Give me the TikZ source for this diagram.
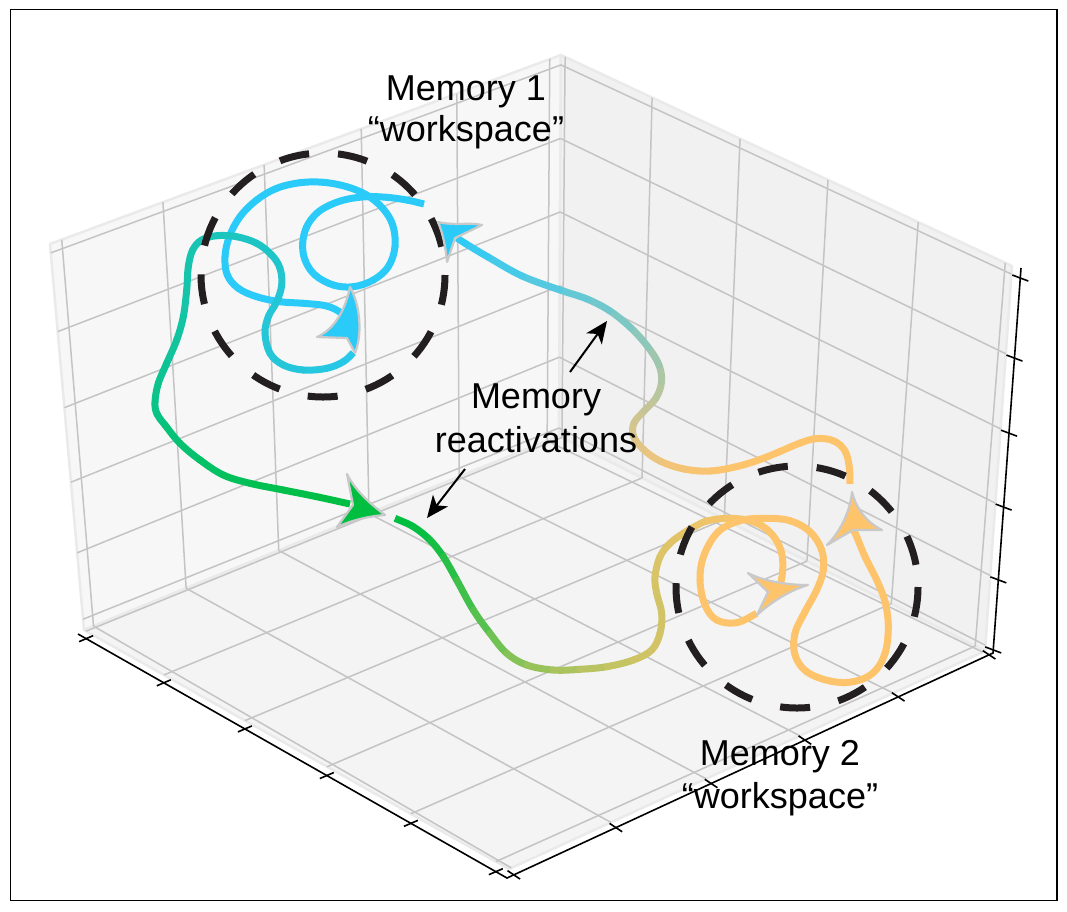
\documentclass[tikz,border=0pt]{standalone}
\usepackage{fontspec}
\setmainfont{Liberation Sans}
\usetikzlibrary{calc,arrows.meta}

% pane and grid colours
\definecolor{paneL}{HTML}{F7F7F7}
\definecolor{paneR}{HTML}{F1F1F1}
\definecolor{paneF}{HTML}{F4F4F4}
\definecolor{paneEdge}{HTML}{EAEAEA}
\definecolor{gridC}{HTML}{C4C4C4}
\definecolor{ringC}{HTML}{231F20}
\definecolor{headEdge}{HTML}{C9C9C9}
% trajectory colour stops
\definecolor{mA}{HTML}{2BCBF9}
\definecolor{mB}{HTML}{24C6D8}
\definecolor{mC}{HTML}{16C4AC}
\definecolor{mD}{HTML}{0AC386}
\definecolor{mE}{HTML}{00BE40}
\definecolor{mF}{HTML}{7CC255}
\definecolor{mG}{HTML}{D2C466}
\definecolor{mH}{HTML}{FEC46C}
\definecolor{mI}{HTML}{DCC58A}
\definecolor{mJ}{HTML}{A8C6A8}
\definecolor{mK}{HTML}{5CC9DA}

\tikzset{
  gridpen/.style={draw=gridC, line width=1.5pt},
  axispen/.style={draw=black, line width=1.6pt},
  trailpen/.style={line width=7pt},
  ringpen/.style={draw=ringC, line width=7pt, dash pattern=on 30pt off 29pt},
  headpen/.style={draw=headEdge, line width=2.2pt, line join=round},
  lab/.style={font=\fontsize{36}{43}\selectfont, inner sep=0pt, text=black},
  notepen/.style={draw=black, line width=2pt,
    -{Stealth[length=22pt, width=19pt, inset=6pt]}},
}

% Smooth coloured trail through a list of x/y/colour points
% (Catmull-Rom pieces, each piece in the mean colour of its ends).
\newcount\trailn
\newcommand\trail[1]{%
  \global\trailn=0\relax
  \foreach \px/\py/\pc in {#1}{%
    \global\advance\trailn by 1\relax
    \edef\qid{\the\trailn}%
    \coordinate (q\qid) at (\px,\py);
    \xglobal\colorlet{qc\qid}{\pc}%
  }%
  \edef\trailk{\the\trailn}%
  \pgfmathtruncatemacro\trailm{\trailk-1}%
  \foreach \ia in {1,...,\trailm}{%
    \pgfmathtruncatemacro\ta{max(\ia-1,1)}%
    \pgfmathtruncatemacro\tb{\ia+1}%
    \pgfmathtruncatemacro\tc{min(\ia+2,\trailk)}%
    \def\capstyle{round}%
    \ifnum\ia=1 \def\capstyle{butt}\fi
    \ifnum\ia=\trailm\relax \def\capstyle{butt}\fi
    \draw[trailpen, line cap=\capstyle, color=qc\ia!50!qc\tb]
      (q\ia) .. controls ($(q\ia)+0.1667*(q\tb)-0.1667*(q\ta)$)
               and ($(q\tb)+0.1667*(q\ia)-0.1667*(q\tc)$) .. (q\tb);
  }%
}

\begin{document}
\begin{tikzpicture}[x=1pt,y=-1pt]
\useasboundingbox (0,0) rectangle (1067,911);
\fill[white] (0,0) rectangle (1067,911);

% ---- box corners ----
\coordinate (TL) at (50,244);
\coordinate (TB) at (561,55);
\coordinate (TR) at (1012,266);
\coordinate (L)  at (84,630);
\coordinate (B)  at (559,436);
\coordinate (R)  at (985,651);
\coordinate (F)  at (509,869);

% ---- panes ----
\filldraw[fill=paneL, draw=paneEdge, line width=2.5pt, line join=round] (TL)--(TB)--(B)--(L)--cycle;
\filldraw[fill=paneR, draw=paneEdge, line width=2.5pt, line join=round] (TB)--(TR)--(R)--(B)--cycle;
\filldraw[fill=paneF, draw=paneEdge, line width=2.5pt, line join=round] (L)--(B)--(R)--(F)--cycle;

% ---- grid ----
\foreach \s/\t in {0.023/0.02,0.221/0.215,0.419/0.41,0.609/0.6,0.796/0.79,0.978/0.975}
  \draw[gridpen] ($(TL)!\s!(TB)$) -- ($(L)!\t!(B)$);
\foreach \s/\t in {0.02/0.005,0.215/0.214,0.41/0.414,0.6/0.611,0.79/0.807,0.975/0.995}
  \draw[gridpen] ($(L)!\s!(B)$) -- ($(F)!\t!(R)$);
\foreach \s/\t in {0.005/0.007,0.188/0.195,0.379/0.388,0.572/0.582,0.769/0.78,0.969/0.977}
  \draw[gridpen] ($(L)!\s!(F)$) -- ($(B)!\t!(R)$);
\foreach \s/\t in {0.007/0.009,0.195/0.202,0.388/0.397,0.582/0.592,0.78/0.792,0.977/0.985}
  \draw[gridpen] ($(B)!\s!(R)$) -- ($(TB)!\t!(TR)$);
\foreach \s/\t in {0.023/0.026,0.227/0.219,0.424/0.412,0.617/0.606,0.8/0.793,0.972/0.979}
  \draw[gridpen] ($(TL)!\s!(L)$) -- ($(TB)!\t!(B)$);
\foreach \s/\t in {0.026/0.021,0.219/0.228,0.412/0.423,0.606/0.616,0.793/0.804,0.979/0.985}
  \draw[gridpen] ($(TB)!\s!(B)$) -- ($(TR)!\t!(R)$);

% ---- axes and ticks ----
\coordinate (La) at (78,634);
\coordinate (Fa) at (507,878);
\coordinate (Ra) at (993,653);
\coordinate (Ta) at (1021,268);
\draw[axispen] (La) -- (Fa) -- (Ra) -- (Ta);
\foreach \s in {0.019,0.2,0.389,0.58,0.776,0.974}
  \draw[axispen] ($(La)!\s!(Fa)+(-7,3)$) -- ($(La)!\s!(Fa)+(7,-3)$);
\foreach \s in {0.014,0.224,0.42,0.613,0.805,0.992}
  \draw[axispen] ($(Fa)!\s!(Ra)+(-6.3,-4.2)$) -- ($(Fa)!\s!(Ra)+(6.3,4.2)$);
\foreach \s in {0.008,0.19,0.379,0.571,0.766,0.974}
  \draw[axispen] ($(Ra)!\s!(Ta)+(-8,-3)$) -- ($(Ra)!\s!(Ta)+(8,3)$);

% ---- trajectory ----
% spiral inside the first workspace
\trail{424/204/mA,406.7/200/mA,386.7/197.3/mA,366.7/196.7/mA,346.7/199.3/mA,
330/205/mA,316.7/213.3/mA,306.7/226.7/mA,302.7/243.3/mA,305/260/mA,315/275/mA,
333.3/285/mA,353.3/286.7/mA,373.3/280/mA,388.3/266.7/mA,395/246.7/mA,
392.7/225/mA,382.7/208.3/mA,366.7/195/mA,346.7/186.7/mA,323.3/182.3/mA,
300/182.7/mA,276.7/188.3/mA,256.7/200/mA,240/216.7/mA,229.3/236.7/mA,
225/256.7/mA,227.3/275/mA,238.3/288.3/mA,256.7/296.7/mA,280/301.7/mA,
303.3/303.3/mA,326.7/306/mA,341.7/313.3/mA,348.3/321.7/mA}
% lower loop and exit towards the green arrow
\trail{353.3/352.7/mA!60!mB,343.3/361.7/mA!50!mB,326.7/368.3/mA!35!mB,
303.3/370/mA!20!mB,283.3/365/mB,270/353.3/mB,265/333.3/mB,268.3/316.7/mB,
276.7/301.7/mB,281.7/285/mB!85!mC,280/268.3/mB!75!mC,271.7/255/mB!65!mC,
256.7/243.3/mB!55!mC,236.7/236.7/mB!45!mC,216.7/235.7/mB!35!mC,
201.7/240/mB!25!mC,192.7/250/mB!15!mC,188.3/266.7/mC,186.7/290/mC,
183.3/316.7/mC!85!mD,176.7/340/mC!65!mD,166.7/363.3/mC!45!mD,
158.3/383.3/mC!25!mD,155/402/mD,157/414/mD,165/425/mD!90!mE,
180/443.3/mD!75!mE,200/460/mD!60!mE,223.3/475/mD!45!mE,250/483.3/mD!30!mE,
283.3/490/mD!18!mE,316.7/496.7/mD!8!mE,350/504/mE}
% green run into the second workspace
\trail{395/518.3/mE,413.3/526.7/mE,430/540/mE!90!mF,443.3/556.7/mE!75!mF,
456.7/580/mE!60!mF,473.3/610/mE!40!mF,490/633.3/mE!20!mF,506.7/653.3/mF,
526.7/665/mF!80!mG,553.3/670/mF!55!mG,580/669.3/mF!35!mG,606.7/666.7/mF!20!mG,
633.3/660/mF!10!mG,651.7/650/mG,660/633.3/mG,661.7/613.3/mG,656.7/593.3/mG,
655/576.7/mG!90!mH,660/556.7/mG!80!mH,670/543.3/mG!70!mH,683.3/533.3/mG!55!mH,
695/526.5/mG!45!mH,706.7/521/mG!35!mH,726.7/518.3/mG!25!mH,746.7/520/mG!15!mH,
763.3/526.7/mG!8!mH,775/538.3/mH,781.7/553.3/mH,782.7/570/mH,780.7/583.3/mH}
% loop inside the second workspace
\trail{756.7/613.3/mH,736.7/622.7/mH,716.7/620/mH,705/605/mH,700/580/mH,
704/555/mH,718.3/531.7/mH,740/520.7/mH,765/518.3/mH,790/520.7/mH,810/531.7/mH,
821.7/550/mH,823.3/570/mH,816.7/590/mH,805/611.7/mH,795/633.3/mH,795/655/mH,
806.7/671.7/mH,830/681/mH,853.3/681.7/mH,873.3/672.7/mH,885/653.3/mH,
888.3/626.7/mH,885/601.7/mH,876.7/580/mH,865/556.7/mH,856.7/536.7/mH,853.3/530/mH}
% return towards the first workspace
\trail{850/484/mH,849.3/467/mH,845/451/mH,834/441/mH,817/438.5/mH,800/443/mH,
780/451.5/mH,760/459.5/mH,737/466.5/mH,710/471/mH!90!mI,684/469/mH!72!mI,
660/461/mH!50!mI,643/449/mH!25!mI,633.5/436/mI,634/423/mI!85!mJ,
644/411/mI!65!mJ,656/398/mI!40!mJ,661.5/382/mI!20!mJ,659/365/mJ,
648/347/mJ!75!mK,631/328/mJ!55!mK,610/311/mJ!35!mK,587/299/mJ!20!mK,
560/290/mK,522/276/mK!70!mA,488/257/mK!40!mA,467/244.5/mK!15!mA,457/238/mA}

% ---- workspace rings ----
\draw[ringpen] (323,275) circle[radius=122];
\draw[ringpen] (797,587) circle[radius=121];

% ---- arrowheads on the trajectory ----
\filldraw[headpen, fill=mA] (350,287) .. controls (358,300) and (364,330) .. (355,353)
  -- (347,338) -- (317,337) .. controls (333,330) and (345,312) .. cycle;
\filldraw[headpen, fill=mA] (438,222) .. controls (455,226) and (470,222) .. (482,225)
  -- (455,238) -- (447,262) .. controls (446,250) and (443,233) .. cycle;
\filldraw[headpen, fill=mE] (385,515) .. controls (372,505) and (356,492) .. (347,474)
  -- (353,505) -- (337,527) .. controls (352,520) and (370,516) .. cycle;
\filldraw[headpen, fill=mH] (808,585) .. controls (790,585) and (765,582) .. (748,573)
  -- (768,592) -- (757,615) .. controls (770,603) and (790,590) .. cycle;
\filldraw[headpen, fill=mH] (852,492) .. controls (850,512) and (840,532) .. (827,545)
  -- (853,530) -- (882,530) .. controls (866,522) and (856,508) .. cycle;

% ---- labels ----
\node[lab, anchor=base] (m1a) at (466,100) {Memory 1};
\node[lab, anchor=base] (m1b) at (466,141) {“workspace”};
\node[lab, anchor=base] (m2a) at (780,765) {Memory 2};
\node[lab, anchor=base] (m2b) at (780,808) {“workspace”};
\node[lab, anchor=base] (ra) at (536,408) {Memory};
\node[lab, anchor=base] (rb) at (536,452) {reactivations};

% ---- pointers from the label ----
\coordinate (p1s) at (570,372);
\coordinate (p1e) at (607,321);
\coordinate (p2s) at (465,469);
\coordinate (p2e) at (427,518);
\draw[notepen] (p1s) -- (p1e);
\draw[notepen] (p2s) -- (p2e);

% ---- frame ----
\draw[black, line width=1.2pt] (10.5,9.5) rectangle (1057,900.5);
\end{tikzpicture}
\end{document}
